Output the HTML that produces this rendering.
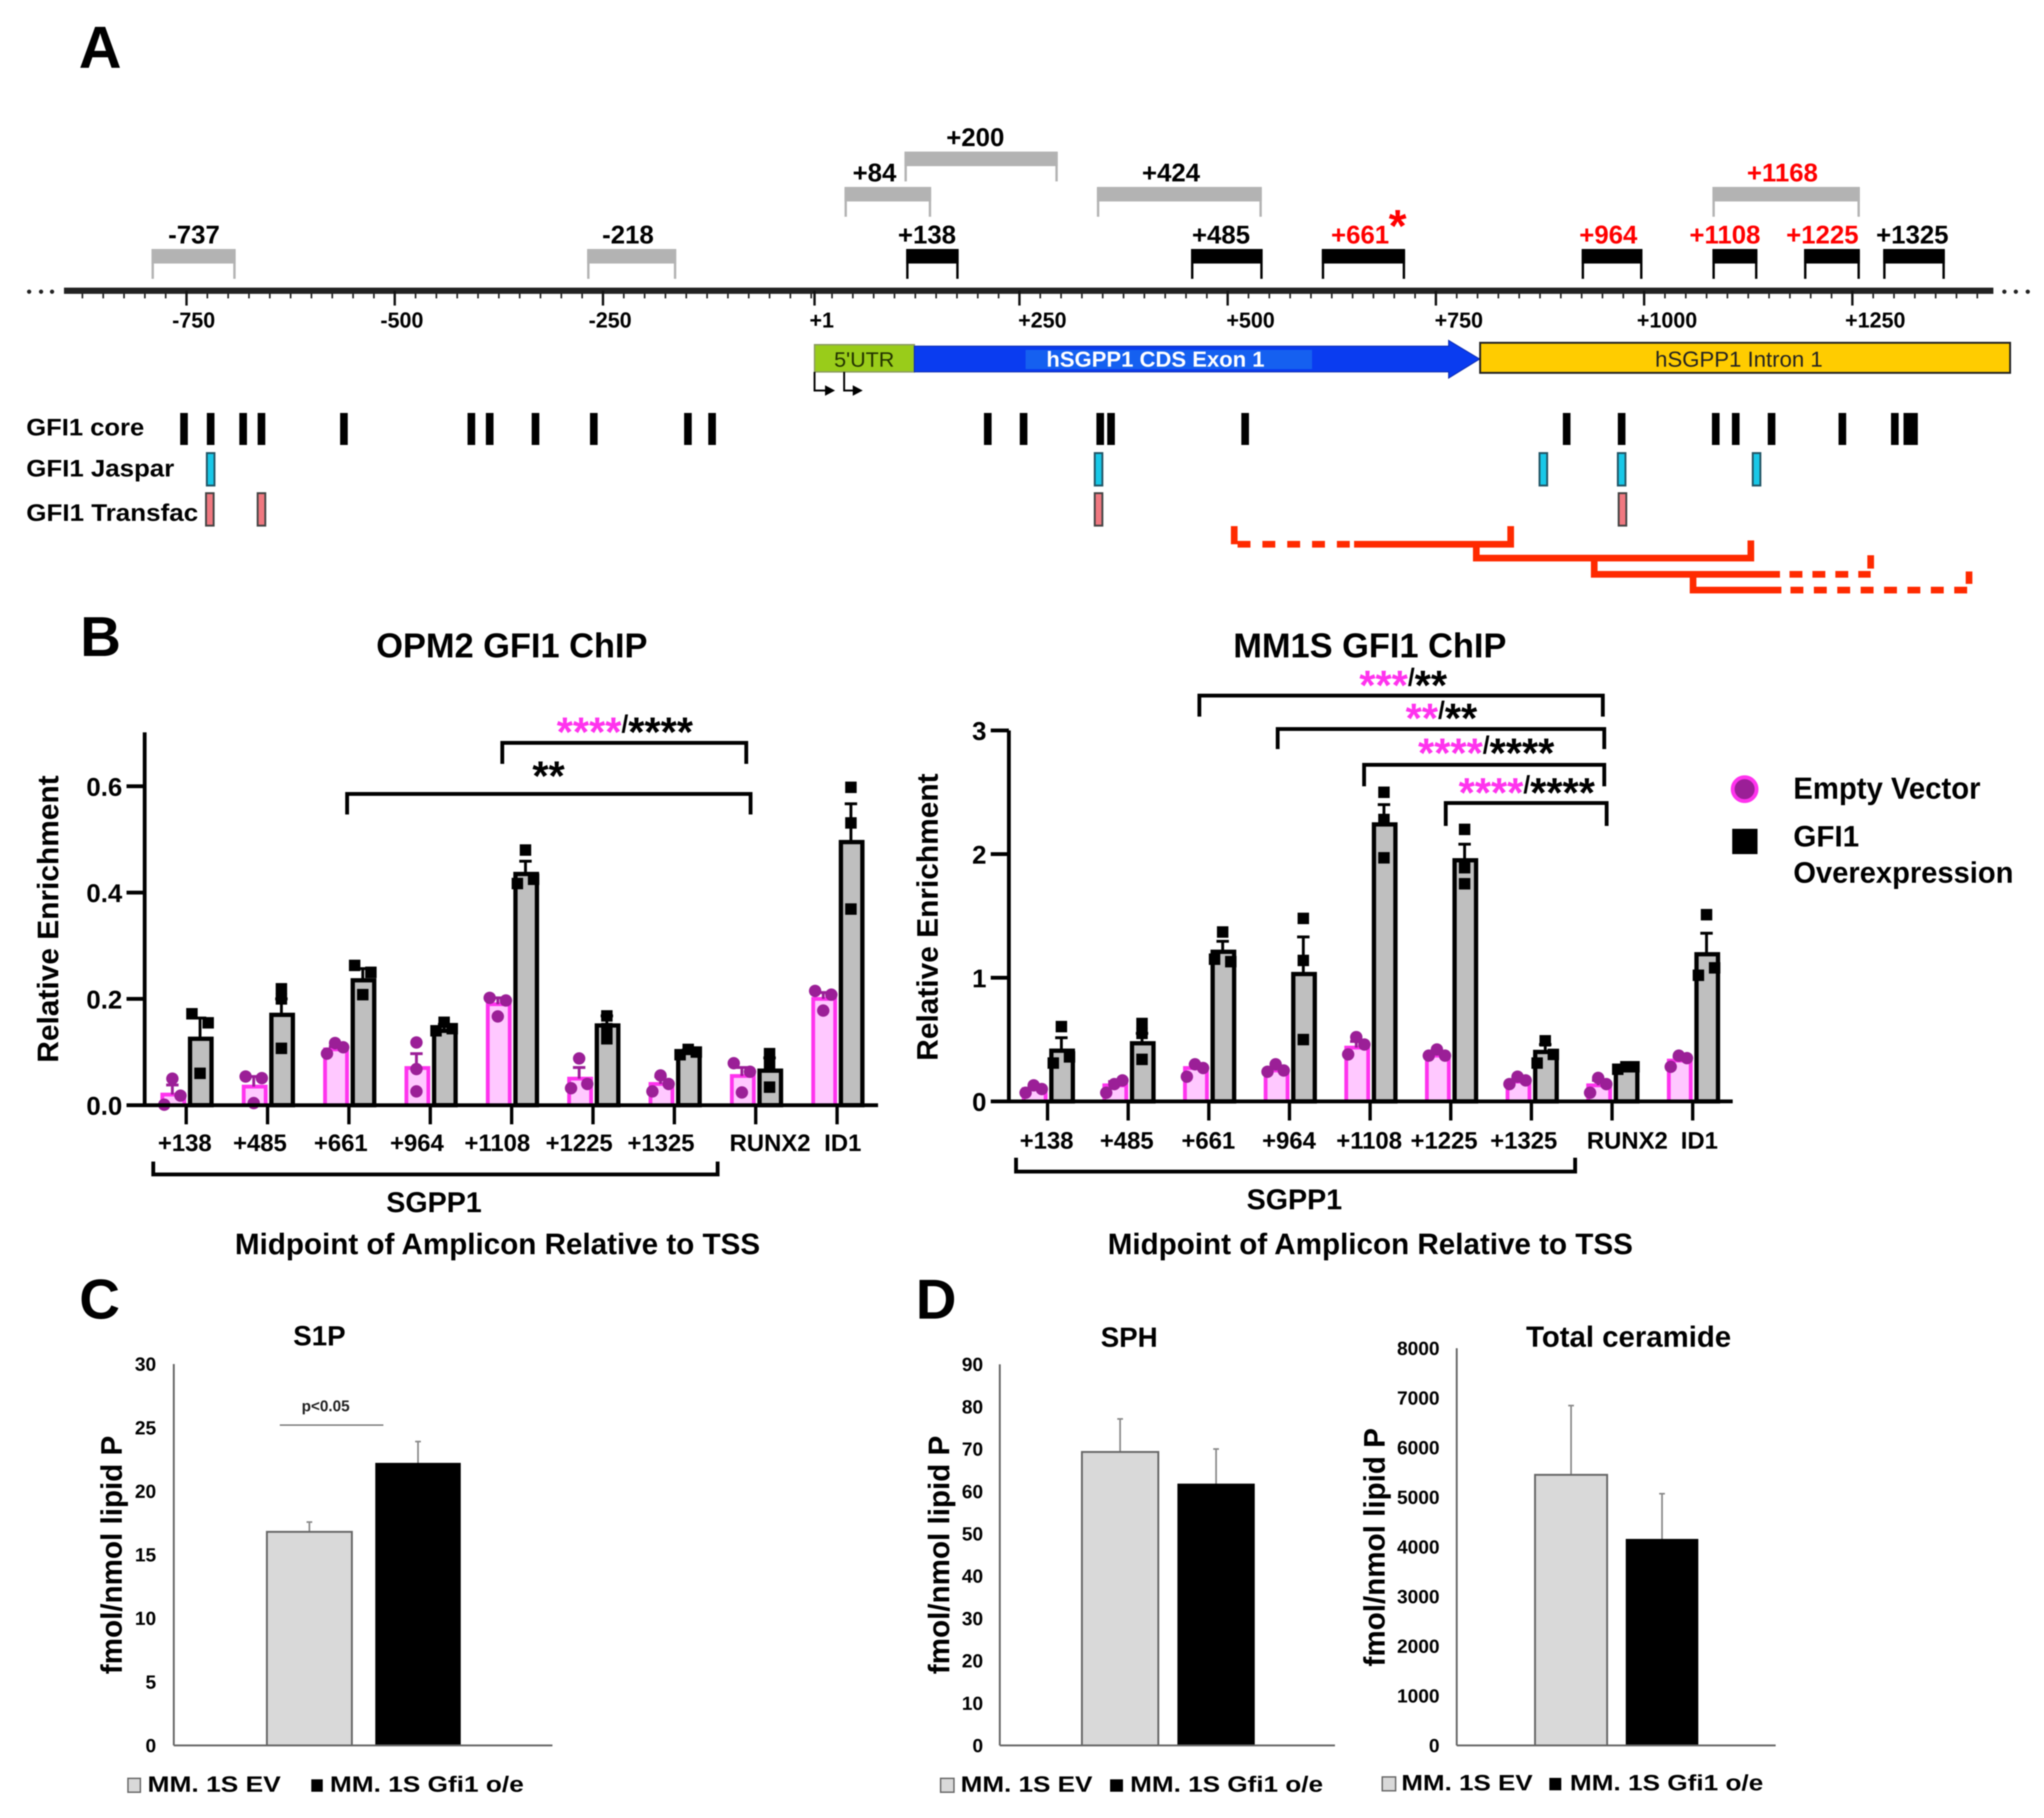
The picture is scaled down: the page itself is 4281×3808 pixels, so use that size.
<!DOCTYPE html>
<html lang="en">
<head>
<meta charset="utf-8">
<title>GFI1 binding at SGPP1 and sphingolipid levels</title>
<style>
html,body{margin:0;padding:0;background:#fff;}
svg{display:block;filter:blur(1.2px);}
text{font-family:"Liberation Sans",sans-serif;font-weight:bold;fill:#000;}
</style>
</head>
<body>
<svg id="figure" xmlns="http://www.w3.org/2000/svg" width="4281" height="3808" viewBox="0 0 4281 3808">
  <rect x="0" y="0" width="4281" height="3808" fill="#fff"/>

  <text x="165" y="142" font-size="124">A</text>
  <text x="168" y="1374" font-size="118">B</text>
  <text x="166" y="2762" font-size="118">C</text>
  <text x="1918" y="2762" font-size="118">D</text>

  <g id="genome-axis"></g>
  <g id="amplicons"></g>

  <g>
    <rect x="1706" y="722" width="209" height="57" fill="#99cc1a" stroke="#8a9a60" stroke-width="3"/>
    <polygon points="1915,725 3034,725 3034,713 3099,752 3034,792 3034,779 1915,779" fill="#0a3cf0" stroke="#0a2ab0" stroke-width="2"/>
    <rect x="2148" y="733" width="600" height="40" fill="#1560f0"/>
    <rect x="3100" y="718" width="1110" height="63" fill="#ffcc00" stroke="#222" stroke-width="4"/>
    <text x="1810" y="768" font-size="44" text-anchor="middle" style="font-weight:normal;fill:#223300" textLength="126" lengthAdjust="spacingAndGlyphs">5'UTR</text>
    <text x="2420" y="768" font-size="45" text-anchor="middle" style="fill:#fff" textLength="457" lengthAdjust="spacingAndGlyphs">hSGPP1 CDS Exon 1</text>
    <text x="3642" y="768" font-size="45" text-anchor="middle" style="font-weight:normal;fill:#222" textLength="351" lengthAdjust="spacingAndGlyphs">hSGPP1 Intron 1</text>
    <path d="M1706 779 V818 H1730" fill="none" stroke="#000" stroke-width="4"/>
    <polygon points="1728,807 1749,818 1728,829" fill="#000"/>
    <path d="M1768 779 V818 H1788" fill="none" stroke="#000" stroke-width="4"/>
    <polygon points="1786,807 1807,818 1786,829" fill="#000"/>
  </g>

  <g id="tracks">
    <text x="55" y="912" font-size="50" textLength="247" lengthAdjust="spacingAndGlyphs">GFI1 core</text>
    <text x="55" y="998" font-size="50" textLength="310" lengthAdjust="spacingAndGlyphs">GFI1 Jaspar</text>
    <text x="55" y="1091" font-size="50" textLength="360" lengthAdjust="spacingAndGlyphs">GFI1 Transfac</text>
  </g>

  <g fill="none" stroke="#ff2a00" stroke-width="14">
    <path d="M2585 1102 V1140"/>
    <line x1="2592" y1="1140" x2="2836" y2="1140" stroke-dasharray="27 25"/>
    <path d="M2836 1140 H3164 V1102"/>
    <path d="M3092 1142 V1169 H3667 V1132"/>
    <path d="M3339 1172 V1203 H3728"/>
    <line x1="3748" y1="1203" x2="3918" y2="1203" stroke-dasharray="27 21"/>
    <path d="M3918 1163 V1191"/>
    <path d="M3546 1207 V1236 H3731"/>
    <line x1="3750" y1="1236" x2="4130" y2="1236" stroke-dasharray="27 22"/>
    <path d="M4124 1197 V1223"/>
  </g>

  <!-- Panel B titles and annotations -->
  <text x="1072" y="1377" font-size="72" text-anchor="middle">OPM2 GFI1 ChIP</text>
  <text x="2869" y="1377" font-size="72" text-anchor="middle">MM1S GFI1 ChIP</text>
  <text transform="translate(122,1925) rotate(-90)" font-size="62.6" text-anchor="middle">Relative Enrichment</text>
  <text transform="translate(1964,1921) rotate(-90)" font-size="62.6" text-anchor="middle">Relative Enrichment</text>

  <g id="opm2-chart"></g>
  <g id="mm1s-chart"></g>

  <g>
    <path d="M1052 1600 V1556 H1563 V1600" fill="none" stroke="#000" stroke-width="8"/>
    <text x="1166" y="1563" font-size="87"><tspan style="fill:#ff33ee">****</tspan><tspan font-size="52" dy="-29">/</tspan><tspan dy="29">****</tspan></text>
    <path d="M727 1706 V1663 H1572 V1706" fill="none" stroke="#000" stroke-width="8"/>
    <text x="1115" y="1655" font-size="87">**</text>
    <path d="M321 2433 V2460 H1503 V2433" fill="none" stroke="#000" stroke-width="8"/>
    <text x="909" y="2539" font-size="60" text-anchor="middle">SGPP1</text>
    <text x="1042" y="2627" font-size="62" text-anchor="middle">Midpoint of Amplicon Relative to TSS</text>
  </g>

  <g>
    <path d="M2512 1501 V1457 H3357 V1501" fill="none" stroke="#000" stroke-width="8"/>
    <text x="2847" y="1465" font-size="87"><tspan style="fill:#ff33ee">***</tspan><tspan font-size="52" dy="-29">/</tspan><tspan dy="29">**</tspan></text>
    <path d="M2676 1569 V1527 H3360 V1569" fill="none" stroke="#000" stroke-width="8"/>
    <text x="2944" y="1534" font-size="87"><tspan style="fill:#ff33ee">**</tspan><tspan font-size="52" dy="-29">/</tspan><tspan dy="29">**</tspan></text>
    <path d="M2857 1647 V1602 H3360 V1647" fill="none" stroke="#000" stroke-width="8"/>
    <text x="2970" y="1607" font-size="87"><tspan style="fill:#ff33ee">****</tspan><tspan font-size="52" dy="-29">/</tspan><tspan dy="29">****</tspan></text>
    <path d="M3028 1730 V1682 H3365 V1730" fill="none" stroke="#000" stroke-width="8"/>
    <text x="3055" y="1690" font-size="87"><tspan style="fill:#ff33ee">****</tspan><tspan font-size="52" dy="-29">/</tspan><tspan dy="29">****</tspan></text>
    <path d="M2128 2425 V2454 H3299 V2425" fill="none" stroke="#000" stroke-width="8"/>
    <text x="2711" y="2533" font-size="60" text-anchor="middle">SGPP1</text>
    <text x="2870" y="2627" font-size="62" text-anchor="middle">Midpoint of Amplicon Relative to TSS</text>
  </g>

  <g>
    <circle cx="3654" cy="1653" r="25" fill="#9b1f97" stroke="#ff33ee" stroke-width="8"/>
    <text x="3756" y="1673" font-size="64" textLength="392" lengthAdjust="spacingAndGlyphs">Empty Vector</text>
    <rect x="3628" y="1736" width="53" height="53" fill="#000"/>
    <text x="3756" y="1773" font-size="62">GFI1</text>
    <text x="3756" y="1849" font-size="62" textLength="461" lengthAdjust="spacingAndGlyphs">Overexpression</text>
  </g>

  <!-- Panels C and D -->
  <text x="669" y="2818" font-size="58" text-anchor="middle">S1P</text>
  <text x="2365" y="2821" font-size="58" text-anchor="middle">SPH</text>
  <text x="3411" y="2821" font-size="61.5" text-anchor="middle">Total ceramide</text>
  <text transform="translate(255,3257) rotate(-90)" font-size="62" text-anchor="middle">fmol/nmol lipid P</text>
  <text transform="translate(1988,3257) rotate(-90)" font-size="62" text-anchor="middle">fmol/nmol lipid P</text>
  <text transform="translate(2900,3241) rotate(-90)" font-size="62" text-anchor="middle">fmol/nmol lipid P</text>

  <g id="s1p-chart"></g>
  <g id="sph-chart"></g>
  <g id="ceramide-chart"></g>

  <line x1="586" y1="2985" x2="803" y2="2985" stroke="#777" stroke-width="3"/>
  <text x="682" y="2956" font-size="32" text-anchor="middle" style="fill:#222">p&lt;0.05</text>

  <g>
    <rect x="268" y="3725" width="26" height="29" fill="#d9d9d9" stroke="#666" stroke-width="3"/>
    <text x="309" y="3753" font-size="46" textLength="279" lengthAdjust="spacingAndGlyphs">MM. 1S EV</text>
    <rect x="652" y="3727" width="24" height="26" fill="#000"/>
    <text x="691" y="3753" font-size="46" textLength="406" lengthAdjust="spacingAndGlyphs">MM. 1S Gfi1 o/e</text>
  </g>
  <g>
    <rect x="1970" y="3725" width="28" height="29" fill="#d9d9d9" stroke="#666" stroke-width="3"/>
    <text x="2012" y="3753" font-size="46" textLength="276" lengthAdjust="spacingAndGlyphs">MM. 1S EV</text>
    <rect x="2325" y="3727" width="27" height="26" fill="#000"/>
    <text x="2367" y="3753" font-size="46" textLength="404" lengthAdjust="spacingAndGlyphs">MM. 1S Gfi1 o/e</text>
  </g>
  <g>
    <rect x="2895" y="3722" width="28" height="29" fill="#d9d9d9" stroke="#666" stroke-width="3"/>
    <text x="2935" y="3750" font-size="46" textLength="275" lengthAdjust="spacingAndGlyphs">MM. 1S EV</text>
    <rect x="3245" y="3724" width="25" height="26" fill="#000"/>
    <text x="3288" y="3750" font-size="46" textLength="405" lengthAdjust="spacingAndGlyphs">MM. 1S Gfi1 o/e</text>
  </g>
</svg>

<script>
// ---- Panel A data (base pairs relative to TSS) ----
const genomeTickValues = [-750, -500, -250, 1, 250, 500, 750, 1000, 1250];
const genomeTickLabels = ['-750', '-500', '-250', '+1', '+250', '+500', '+750', '+1000', '+1250'];
const ampliconLabels = ['-737', '-218', '+84', '+200', '+138', '+424', '+485', '+661', '+964', '+1108', '+1225', '+1325', '+1168'];
const ampliconStarts = [-792, -269, 40, 112, 114, 343, 456, 613, 925, 1082, 1192, 1287, 1082];
const ampliconEnds = [-691, -162, 144, 296, 177, 541, 542, 713, 998, 1136, 1259, 1361, 1259];
const ampliconMidpoints = [-741, -220, 76, 197, 139, 432, 492, 659, 957, 1097, 1214, 1322, 1166];
const ampliconTiers = [0, 0, 1, 2, 0, 1, 0, 0, 0, 0, 0, 0, 1];
const ampliconIsGrey = [true, true, true, true, false, true, false, false, false, false, false, false, true];
const ampliconIsRed = [false, false, false, false, false, false, false, true, true, true, true, false, true];
const coreSites = [-753, -721, -682, -660, -561, -408, -386, -331, -261, -148, -119, 212, 255, 347, 360, 521, 907, 973, 1086, 1110, 1153, 1238, 1301, 1316, 1324];
const jasparSites = [-721, 345, 879, 973, 1135];
const transfacSites = [-722, -660, 345, 974];

// ---- Panel B data ----
const chipCategories = ['+138', '+485', '+661', '+964', '+1108', '+1225', '+1325', 'RUNX2', 'ID1'];
const opm2Ticks = [0, 0.2, 0.4, 0.6];
const opm2TickLabels = ['0.0', '0.2', '0.4', '0.6'];
const opm2EvValues = [0.02, 0.035, 0.105, 0.07, 0.19, 0.05, 0.04, 0.055, 0.20];
const opm2EvErrors = [0.018, 0.019, 0.005, 0.027, 0.012, 0.021, 0.014, 0.016, 0.012];
const opm2GfiValues = [0.125, 0.17, 0.235, 0.14, 0.435, 0.15, 0.10, 0.065, 0.495];
const opm2GfiErrors = [0.039, 0.03, 0.022, 0.012, 0.024, 0.018, 0.004, 0.024, 0.072];
const opm2EvPoints = [[0.001, 0.05, 0.018], [0.054, 0.004, 0.051], [0.097, 0.117, 0.109], [0.118, 0.068, 0.026], [0.202, 0.167, 0.197], [0.032, 0.088, 0.04], [0.026, 0.056, 0.04], [0.079, 0.024, 0.063], [0.215, 0.178, 0.208]];
const opm2GfiPoints = [[0.172, 0.06, 0.155], [0.219, 0.20, 0.107], [0.263, 0.208, 0.25], [0.14, 0.156, 0.144], [0.417, 0.48, 0.425], [0.125, 0.168, 0.144], [0.095, 0.105, 0.1], [0.097, 0.079, 0.034], [0.598, 0.531, 0.369]];

const mm1sTicks = [0, 1, 2, 3];
const mm1sTickLabels = ['0', '1', '2', '3'];
const mm1sEvValues = [0.10, 0.13, 0.27, 0.25, 0.435, 0.37, 0.16, 0.13, 0.33];
const mm1sEvErrors = [0.02, 0.03, 0.03, 0.02, 0.05, 0.02, 0.03, 0.04, 0.03];
const mm1sGfiValues = [0.41, 0.47, 1.21, 1.03, 2.24, 1.95, 0.40, 0.28, 1.19];
const mm1sGfiErrors = [0.105, 0.08, 0.085, 0.30, 0.16, 0.13, 0.06, 0.01, 0.17];
const mm1sEvPoints = [[0.07, 0.13, 0.10], [0.07, 0.14, 0.17], [0.2, 0.3, 0.27], [0.24, 0.3, 0.25], [0.38, 0.52, 0.46], [0.37, 0.42, 0.37], [0.14, 0.2, 0.17], [0.07, 0.19, 0.14], [0.28, 0.37, 0.35]];
const mm1sGfiPoints = [[0.31, 0.605, 0.36], [0.63, 0.34, 0.55], [1.15, 1.37, 1.13], [1.48, 1.14, 0.5], [2.5, 2.28, 1.97], [2.2, 1.89, 1.76], [0.31, 0.49, 0.38], [0.26, 0.28, 0.28], [1.02, 1.51, 1.08]];

// ---- Panels C and D data ----
const s1pTicks = [0, 5, 10, 15, 20, 25, 30];
const s1pValues = [16.8, 22.15];
const s1pErrors = [0.77, 1.75];
const sphTicks = [0, 10, 20, 30, 40, 50, 60, 70, 80, 90];
const sphValues = [69.3, 61.6];
const sphErrors = [7.8, 8.4];
const ceramideTicks = [0, 1000, 2000, 3000, 4000, 5000, 6000, 7000, 8000];
const ceramideValues = [5450, 4140];
const ceramideErrors = [1395, 930];

const NS = 'http://www.w3.org/2000/svg';
function mk(tag, attrs, parent) {
  const n = document.createElementNS(NS, tag);
  for (const k in attrs) n.setAttribute(k, attrs[k]);
  parent.appendChild(n);
  return n;
}
function txt(content, attrs, parent) {
  const n = mk('text', attrs, parent);
  n.textContent = content;
  return n;
}

// ---- Panel A ----
const gx = v => 1699 + 1.7445 * v;

(function drawGenomeAxis() {
  const g = document.getElementById('genome-axis');
  const axisY = 609;
  const line = mk('line', { x1: 134, y1: axisY, x2: 4175, y2: axisY, stroke: '#222', 'stroke-width': 13 }, g);
  
  
  for (let v = -875; v <= 1400; v += 25) {
    const minor = mk('line', { x1: gx(v), y1: axisY, x2: gx(v), y2: 625, stroke: '#222', 'stroke-width': 3.5 }, g);
    
    
  }
  genomeTickValues.forEach((v, i) => {
    const tickX = gx(v === 1 ? 4 : v);
    const major = mk('line', { x1: tickX, y1: axisY, x2: tickX, y2: 640, stroke: '#111', 'stroke-width': 5 }, g);
    
    
    const shift = v <= 1 ? 15 : 48;
    const label = txt(genomeTickLabels[i], { x: tickX + shift, y: 686, 'font-size': 45, 'text-anchor': 'middle' }, g);
    
    
  });
  [61, 86, 109, 4198, 4222, 4247].forEach(x => {
    const dot = mk('circle', { cx: x, cy: 611, r: 4.5, fill: '#222' }, g);
    
    
  });
})();

(function drawAmplicons() {
  const g = document.getElementById('amplicons');
  const tierTop = [524, 394, 320];
  ampliconLabels.forEach((name, i) => {
    const top = tierTop[ampliconTiers[i]];
    const colour = ampliconIsGrey[i] ? '#b3b3b3' : '#000';
    const x1 = gx(ampliconStarts[i]);
    const x2 = gx(ampliconEnds[i]);
    const bracket = mk('path', { d: `M${x1 + 2.5} ${top + 60} V${top} H${x2 - 2.5} V${top + 60}`, fill: 'none', stroke: colour, 'stroke-width': 5 }, g);
    
    
    const bar = mk('rect', { x: x1, y: top, width: x2 - x1, height: 28, fill: colour }, g);
    
    
    const label = txt(name, { x: gx(ampliconMidpoints[i]), y: top - 14, 'font-size': 54, 'text-anchor': 'middle', style: ampliconIsRed[i] ? 'fill:#ff0000' : 'fill:#000' }, g);
    
    
  });
  const star = txt('*', { x: gx(704), y: 506, 'font-size': 96, 'text-anchor': 'middle', style: 'fill:#ff0000' }, g);
  
  
})();

(function drawTracks() {
  const g = document.getElementById('tracks');
  coreSites.forEach(v => {
    const mark = mk('rect', { x: gx(v) - 8, y: 865, width: 16, height: 67, fill: '#000' }, g);
    
    
  });
  jasparSites.forEach(v => {
    const mark = mk('rect', { x: gx(v) - 8, y: 949, width: 16, height: 68, fill: '#18c8e8', stroke: '#225566', 'stroke-width': 4 }, g);
    
    
  });
  transfacSites.forEach(v => {
    const mark = mk('rect', { x: gx(v) - 8, y: 1033, width: 16, height: 68, fill: '#f07880', stroke: '#444', 'stroke-width': 4 }, g);
    
    
  });
})();

// ---- Panel B ----
function spreadOffsets(vals, yScale) {
  const ys = vals.map(yScale).sort((a, b) => a - b);
  const close = (ys[1] - ys[0] < 20) || (ys[2] - ys[1] < 20);
  return close ? [-17, 0, 17] : [0, 0, 0];
}

function drawChipChart(g, d, lay) {
  const xBand = i => lay.x0 + lay.step * i;
  const yScale = v => lay.yZero - lay.pxPerUnit * v;

  d.categories.forEach((cat, i) => {
    const t = xBand(i);
    const evTop = yScale(d.ev[i]);
    const evBar = mk('rect', { x: t - 50, y: evTop, width: 46, height: lay.yZero - evTop, fill: '#ffc8ff', stroke: '#ff33ee', 'stroke-width': 8 }, g);
    
    
    const gfiTop = yScale(d.gfi[i]);
    const gfiBar = mk('rect', { x: t + 8, y: gfiTop, width: 45, height: lay.yZero - gfiTop, fill: '#bfbfbf', stroke: '#000', 'stroke-width': 9 }, g);
    
    

    const evErrY = yScale(d.ev[i] + d.evErr[i]);
    const evErr = mk('path', { d: `M${t - 29} ${evTop} V${evErrY} M${t - 42} ${evErrY} H${t - 16}`, fill: 'none', stroke: '#9b1f97', 'stroke-width': 6 }, g);
    
    
    const gfiErrY = yScale(d.gfi[i] + d.gfiErr[i]);
    const gfiErr = mk('path', { d: `M${t + 29} ${gfiTop} V${gfiErrY} M${t + 16} ${gfiErrY} H${t + 42}`, fill: 'none', stroke: '#000', 'stroke-width': 6 }, g);
    
    

    const evOff = spreadOffsets(d.evPts[i], yScale);
    d.evPts[i].forEach((p, k) => {
      const dot = mk('circle', { cx: t - 29 + evOff[k], cy: yScale(p), r: 13, fill: '#9b1f97' }, g);
      
      
    });
    const gfiOff = spreadOffsets(d.gfiPts[i], yScale);
    d.gfiPts[i].forEach((p, k) => {
      const sq = mk('rect', { x: t + 29 + gfiOff[k] - 12, y: yScale(p) - 12, width: 24, height: 24, fill: '#000' }, g);
      
      
    });

    const tick = mk('line', { x1: t, y1: lay.yZero, x2: t, y2: lay.yZero + 40, stroke: '#000', 'stroke-width': 7 }, g);
    
    
    const label = txt(cat, { x: t + lay.labelNudge[i], y: lay.labelBaseline, 'font-size': 50, 'text-anchor': 'middle' }, g);
    
    
  });

  d.ticks.forEach((v, i) => {
    const y = yScale(v);
    const tick = mk('line', { x1: lay.axisX - 38, y1: y, x2: lay.axisX, y2: y, stroke: '#000', 'stroke-width': 8 }, g);
    
    
    const label = txt(d.tickLabels[i], { x: lay.axisX - 47, y: y + 20, 'font-size': 54, 'text-anchor': 'end' }, g);
    
    
  });

  const yAxis = mk('line', { x1: lay.axisX, y1: lay.axisTop, x2: lay.axisX, y2: lay.yZero + 4, stroke: '#000', 'stroke-width': 8 }, g);
  
  
  const xAxis = mk('line', { x1: lay.axisX, y1: lay.yZero, x2: lay.axisEnd, y2: lay.yZero, stroke: '#000', 'stroke-width': 8 }, g);
  
  
}

drawChipChart(document.getElementById('opm2-chart'), {
  categories: chipCategories, ticks: opm2Ticks, tickLabels: opm2TickLabels,
  ev: opm2EvValues, evErr: opm2EvErrors, gfi: opm2GfiValues, gfiErr: opm2GfiErrors,
  evPts: opm2EvPoints, gfiPts: opm2GfiPoints
}, {
  x0: 390, step: 170.4, yZero: 2315, pxPerUnit: 1113.5,
  axisX: 303, axisTop: 1534, axisEnd: 1839, labelBaseline: 2411,
  labelNudge: [-3, -16, -17, -28, -30, -29, -28, 30, 12]
});

drawChipChart(document.getElementById('mm1s-chart'), {
  categories: chipCategories, ticks: mm1sTicks, tickLabels: mm1sTickLabels,
  ev: mm1sEvValues, evErr: mm1sEvErrors, gfi: mm1sGfiValues, gfiErr: mm1sGfiErrors,
  evPts: mm1sEvPoints, gfiPts: mm1sGfiPoints
}, {
  x0: 2194, step: 168.9, yZero: 2307, pxPerUnit: 259,
  axisX: 2113, axisTop: 1530, axisEnd: 3629, labelBaseline: 2406,
  labelNudge: [-2, -3, -1, -1, -2, -14, -16, 32, 14]
});

// ---- Panels C and D ----
function drawLipidChart(g, ticks, values, errors, lay) {
  const yScale = v => lay.yZero - lay.pxPerUnit * v;
  const barX = [lay.ev, lay.gfi];
  const fills = ['#d9d9d9', '#000'];
  values.forEach((v, i) => {
    const top = yScale(v);
    const cx = (barX[i][0] + barX[i][1]) / 2;
    const errY = yScale(v + errors[i]);
    const err = mk('path', { d: `M${cx} ${top} V${errY} M${cx - 6} ${errY} H${cx + 6}`, fill: 'none', stroke: '#888', 'stroke-width': 3.5 }, g);
    
    
    const bar = mk('rect', { x: barX[i][0], y: top, width: barX[i][1] - barX[i][0], height: lay.yZero - top, fill: fills[i], stroke: i === 0 ? '#666' : '#000', 'stroke-width': 4 }, g);
    
    
  });
  ticks.forEach(v => {
    const label = txt(String(v), { x: lay.labelX, y: yScale(v) + 14, 'font-size': 40, 'text-anchor': 'end' }, g);
    
    
  });
  const yAxis = mk('line', { x1: lay.axisX, y1: yScale(ticks[ticks.length - 1]), x2: lay.axisX, y2: lay.yZero, stroke: '#666', 'stroke-width': 4 }, g);
  
  
  const xAxis = mk('line', { x1: lay.axisX, y1: lay.yZero, x2: lay.axisEnd, y2: lay.yZero, stroke: '#666', 'stroke-width': 4 }, g);
  
  
}

drawLipidChart(document.getElementById('s1p-chart'), s1pTicks, s1pValues, s1pErrors, {
  yZero: 3656, pxPerUnit: 26.63, axisX: 364, axisEnd: 1157, labelX: 327, ev: [559, 737], gfi: [788, 963]
});
drawLipidChart(document.getElementById('sph-chart'), sphTicks, sphValues, sphErrors, {
  yZero: 3656, pxPerUnit: 8.87, axisX: 2094, axisEnd: 2796, labelX: 2059, ev: [2266, 2426], gfi: [2468, 2626]
});
drawLipidChart(document.getElementById('ceramide-chart'), ceramideTicks, ceramideValues, ceramideErrors, {
  yZero: 3656, pxPerUnit: 0.104, axisX: 3051, axisEnd: 3719, labelX: 3015, ev: [3215, 3366], gfi: [3407, 3555]
});
</script>
</body>
</html>
